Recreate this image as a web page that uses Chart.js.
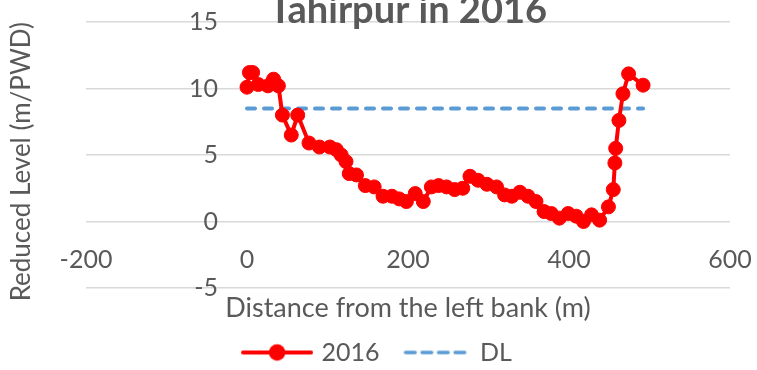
<!DOCTYPE html>
<html>
<head>
<meta charset="utf-8">
<script src="https://cdn.jsdelivr.net/npm/chart.js@4.4.1/dist/chart.umd.min.js"></script>
<style>
  html, body { margin: 0; padding: 0; background: #ffffff; }
  #wrap { width: 757px; height: 370px; }
</style>
</head>
<body>
<div id="wrap"><canvas id="c" width="757" height="370"></canvas></div>
<script>
// Cross-section survey at Tahirpur, 2016
const distances = [0, 3, 7, 14, 26, 33, 39, 44, 55, 63, 77, 90, 103, 111, 117, 123, 127, 136, 147, 158,
  169, 180, 189, 198, 209, 219, 229, 238, 248, 258, 268, 277, 287, 298, 310, 320, 329, 339, 349, 359,
  369, 378, 388, 399, 409, 418, 428, 438, 449, 455, 457, 458, 462, 467, 474, 492];
const levels2016 = [10.1, 11.2, 11.2, 10.3, 10.2, 10.7, 10.2, 8.0, 6.5, 8.0, 5.9, 5.6, 5.6, 5.4, 5.0, 4.5, 3.6, 3.5, 2.7, 2.6,
  1.9, 1.9, 1.7, 1.5, 2.1, 1.5, 2.6, 2.7, 2.6, 2.4, 2.5, 3.4, 3.1, 2.8, 2.6, 2.0, 1.9, 2.2, 1.9, 1.5,
  0.75, 0.6, 0.25, 0.6, 0.4, 0.0, 0.5, 0.1, 1.1, 2.4, 4.4, 5.5, 7.6, 9.6, 11.1, 10.25];

// Danger level
const dlDistances = [0, 492];
const dlLevels = [8.5, 8.5];

const xTicks = [-200, 0, 200, 400, 600];
const yTicks = [-5, 0, 5, 10, 15];

const textColor = '#595959';
const redColor = '#ff0000';
const dlColor = '#5b9bd5';

Chart.defaults.font.family = 'Lato';

// Legend swatches: solid line with a marker, and a dashed line
function makeSwatch(kind) {
  const cv = document.createElement('canvas');
  cv.width = 72; cv.height = 20;
  const g = cv.getContext('2d');
  g.lineCap = 'round';
  if (kind === 'marker') {
    g.strokeStyle = redColor; g.lineWidth = 4;
    g.beginPath(); g.moveTo(2, 10); g.lineTo(70, 10); g.stroke();
    g.fillStyle = redColor;
    g.beginPath(); g.arc(36, 10, 8.3, 0, Math.PI * 2); g.fill();
  } else {
    g.strokeStyle = dlColor; g.lineWidth = 3.6;
    g.setLineDash([9.5, 7]);
    g.beginPath(); g.moveTo(6, 10); g.lineTo(68, 10); g.stroke();
  }
  return cv;
}
const swatches = [makeSwatch('marker'), makeSwatch('dash')];

new Chart(document.getElementById('c'), {
  type: 'line',
  data: {
    datasets: [
      {
        label: '2016',
        data: distances.map((x, i) => ({ x, y: levels2016[i] })),
        borderColor: redColor,
        backgroundColor: redColor,
        borderWidth: 4,
        pointRadius: 7,
        pointBorderWidth: 1,
        pointBackgroundColor: redColor,
        pointBorderColor: redColor,
        tension: 0
      },
      {
        label: 'DL',
        data: dlDistances.map((x, i) => ({ x, y: dlLevels[i] })),
        borderColor: dlColor,
        backgroundColor: dlColor,
        borderWidth: 4,
        borderDash: [8, 9],
        borderCapStyle: 'round',
        pointRadius: 0,
        tension: 0
      }
    ]
  },
  options: {
    responsive: false,
    animation: false,
    layout: { padding: { left: 0, right: 0, top: 0, bottom: -5 } },
    plugins: {
      tooltip: { enabled: false },
      title: {
        display: true,
        text: 'Tahirpur in 2016',
        fullSize: false,
        color: textColor,
        font: { family: 'Lato', size: 38, weight: 'bold' },
        padding: { top: -12.5, bottom: -11.1 }
      },
      legend: {
        position: 'bottom',
        labels: {
          usePointStyle: true,
          pointStyleWidth: 64,
          padding: 24,
          color: textColor,
          font: { size: 25 },
          generateLabels: (chart) => {
            const items = Chart.defaults.plugins.legend.labels.generateLabels(chart);
            items.forEach((it, i) => { it.pointStyle = swatches[i]; });
            return items;
          }
        }
      }
    },
    scales: {
      x: {
        type: 'linear',
        position: 'bottom',
        min: -200,
        max: 600,
        grid: { display: false },
        border: { display: false },
        ticks: { mirror: true, padding: 13, color: textColor, font: { size: 25 }, autoSkip: false, maxRotation: 0 },
        afterBuildTicks: (s) => { s.ticks = xTicks.map(v => ({ value: v })); },
        afterFit: (s) => { s.height = 28; s.paddingLeft = 0; s.paddingRight = 27; },
        title: {
          display: true,
          text: 'Distance from the left bank (m)',
          color: textColor,
          font: { size: 27 },
          padding: { top: 0, bottom: -8.8 }
        }
      },
      y: {
        type: 'linear',
        position: 'left',
        min: -5,
        max: 15,
        grid: { color: '#d9d9d9', lineWidth: 1.5, drawTicks: false },
        border: { display: false },
        ticks: { mirror: true, crossAlign: 'far', padding: 103, color: textColor, font: { size: 25 } },
        afterBuildTicks: (s) => { s.ticks = yTicks.map(v => ({ value: v })); },
        afterFit: (s) => { s.width = 86; s.paddingTop = 0; s.paddingBottom = 0; },
        title: {
          display: true,
          text: 'Reduced Level (m/PWD)',
          align: 'end',
          color: textColor,
          font: { size: 26 },
          padding: { top: 5.9, bottom: 0 }
        }
      }
    }
  }
});
</script>
</body>
</html>
